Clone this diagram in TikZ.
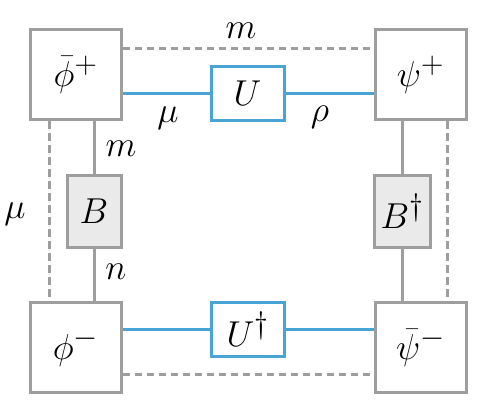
\RequirePackage{fix-cm}
\documentclass[tikz,border=0pt]{standalone}
\usetikzlibrary{calc}
\definecolor{lg}{RGB}{158,158,158}
\definecolor{lb}{RGB}{72,164,210}
\definecolor{bf}{RGB}{234,234,234}
\newcommand{\supx}[1]{^{\mbox{\fontsize{31}{31}\selectfont$#1$}}}
\begin{document}
\begin{tikzpicture}[x=1pt,y=-1pt,
  every node/.style={font=\fontsize{36}{40}\selectfont},
  corner/.style={draw=lg,line width=3pt,fill=white,minimum width=91pt,minimum height=90pt,inner sep=0pt},
  ubox/.style={draw=lb,line width=3pt,fill=white,minimum width=73pt,minimum height=54pt,inner sep=0pt},
  bbox/.style={draw=lg,line width=3pt,fill=bf,minimum width=54pt,minimum height=72pt,inner sep=0pt},
  gline/.style={draw=lg,line width=3pt},
  bline/.style={draw=lb,line width=3pt},
  dline/.style={draw=lg,line width=3pt,dash pattern=on 7.5pt off 4.5pt}]
\useasboundingbox (0,0) rectangle (499,413);
\node[corner] (TL) at (75.5,74.5) {$\bar\phi\supx{+}$};
\node[corner] (TR) at (420.5,74.5) {$\psi\supx{+}$};
\node[corner] (BL) at (75.5,347) {$\phi\supx{-}$};
\node[corner] (BR) at (420.5,347) {$\bar\psi\supx{-}$};
\node[ubox] (U) at (247.5,93) {$U$};
\node[ubox] (Ud) at (247.5,329) {$U\supx{\dagger}$};
\node[bbox] (B) at (94,211) {$B$};
\node[bbox,minimum width=56pt] (Bd) at (402,211) {$B\supx{\dagger}$};
% blue lines
\draw[bline] (TL.east |- U.west) -- (U.west);
\draw[bline] (U.east) -- (TR.west |- U.east);
\draw[bline] (BL.east |- Ud.west) -- (Ud.west);
\draw[bline] (Ud.east) -- (BR.west |- Ud.east);
% gray solid
\draw[gline] (B.north |- TL.south) -- (B.north);
\draw[gline] (B.south) -- (B.south |- BL.north);
\draw[gline] (Bd.north |- TR.south) -- (Bd.north);
\draw[gline] (Bd.south) -- (Bd.south |- BR.north);
% dashed
\draw[dline] ([yshift=26.5pt]TL.east) -- ([yshift=26.5pt]TR.west);
\draw[dline] ([yshift=-27pt]BL.east) -- ([yshift=-27pt]BR.west);
\draw[dline] ([xshift=-26.5pt]TL.south) -- ([xshift=-26.5pt]BL.north);
\draw[dline] ([xshift=26.5pt]TR.south) -- ([xshift=26.5pt]BR.north);
% labels
\node (lm1) at (241,31) {$m$};
\node (lmu1) at (168,118) {$\mu$};
\node (lrho) at (320,117) {$\rho$};
\node (lm2) at (121,149) {$m$};
\node (lmu2) at (15,214) {$\mu$};
\node (ln) at (116,272) {$n$};
\end{tikzpicture}
\end{document}
